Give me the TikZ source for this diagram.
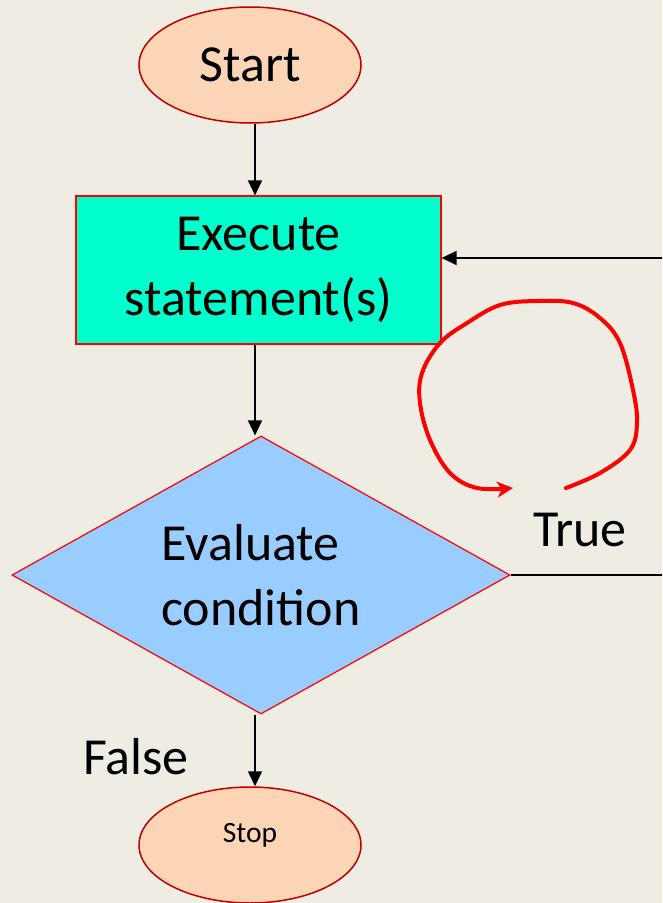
\documentclass[tikz,border=0pt]{standalone}
\usepackage{fontspec}
\setmainfont{Carlito}
\usetikzlibrary{shapes.geometric,arrows.meta}

\definecolor{bgcol}{RGB}{238,236,227}
\definecolor{peach}{RGB}{251,213,181}
\definecolor{darkred}{RGB}{192,0,0}
\definecolor{aqua}{RGB}{0,255,204}
\definecolor{skyblue}{RGB}{153,204,255}

\tikzset{
  terminal/.style={ellipse, draw=darkred, line width=1.5pt, fill=peach,
    minimum width=222pt, minimum height=116pt, inner sep=0pt},
  process/.style={rectangle, draw=red, line width=1.2pt, fill=aqua,
    minimum width=365pt, minimum height=148pt, inner sep=0pt, align=center},
  decision/.style={diamond, aspect=1.79, draw=red, line width=1.2pt, fill=skyblue,
    minimum width=498pt, minimum height=278pt, inner sep=0pt, align=left},
  flow/.style={line width=1.5pt, -{Triangle[length=15pt,width=14pt]}},
  bigtext/.style={font=\fontsize{52}{65}\selectfont},
  loopmark/.style={red, line width=4pt, line cap=round, line join=round,
    -{Stealth[length=16pt,width=16pt,inset=5pt]}}
}

\begin{document}
\begin{tikzpicture}[x=1pt, y=-1pt]
  % canvas
  \fill[bgcol] (0,0) rectangle (662,903);
  \useasboundingbox (0,0) rectangle (662,903);
  \clip (0,0) rectangle (662,903);

  % blocks
  \node[terminal, bigtext] (start) at (250,65) {Start};
  \node[process, bigtext] (exec) at (258.5,270) {Execute\\statement(s)};
  \node[decision, bigtext] (cond) at (261,575) {Evaluate\\condition};
  \node[terminal, font=\fontsize{29.5}{34}\selectfont, text depth=25pt] (stop) at (250,845) {Stop};

  % labels
  \node[bigtext, inner sep=0pt] (truelbl) at (580,530) {True};
  \node[bigtext, inner sep=0pt] (falselbl) at (136,757) {False};

  % helper points for the return path along the right edge
  \coordinate (backin) at ([yshift=12pt]exec.east);
  \coordinate (corner1) at (690,575);
  \coordinate (corner2) at (690,258);

  % connectors
  \draw[flow] (start.south -| 255,0) -- (exec.north -| 255,0);
  \draw[flow] (exec.south -| 255,0) -- (cond.north -| 255,0);
  \draw[flow] (cond.south -| 255,0) -- (stop.north -| 255,0);
  \draw[flow] (cond.east) -- (corner1) -- (corner2) -- (backin);

  % hand-drawn loop sign
  \draw[loopmark] plot[smooth, tension=0.6] coordinates {
    (566,488) (600,473) (630,450) (637,423) (633,390) (620,343)
    (600,318) (573,303) (537,301) (500,305) (467,323) (440,343)
    (422,373) (420,403) (430,440) (450,473) (477,488) (513,488)};
\end{tikzpicture}
\end{document}
